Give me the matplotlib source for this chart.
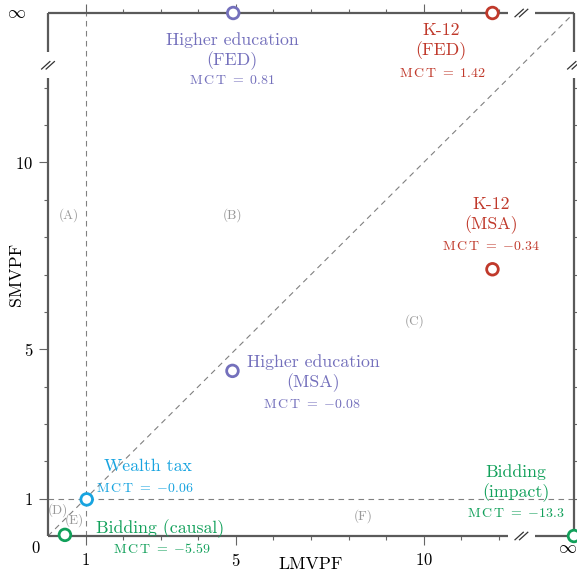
import numpy as np
import matplotlib
matplotlib.use('Agg')
import matplotlib.pyplot as plt

matplotlib.rcParams['font.family'] = 'cmr10'
matplotlib.rcParams['mathtext.fontset'] = 'cm'
matplotlib.rcParams['axes.unicode_minus'] = False
matplotlib.rcParams['axes.formatter.use_mathtext'] = True

# data (np.inf = infinite MVPF)
policy = ['Higher education\n(FED)', 'K-12\n(FED)', 'K-12\n(MSA)', 'Higher education\n(MSA)',
          'Wealth tax', 'Bidding (causal)', 'Bidding\n(impact)']
lmvpf = [4.93, 11.83, 11.83, 4.91, 1.03, 0.45, np.inf]
smvpf = [np.inf, np.inf, 7.14, 4.42, 0.98, 0.03, 0.0]
mct = ['0.81', '1.42', '-0.34', '-0.08', '-0.06', '-5.59', '-13.3']
region = ['(A)', '(B)', '(C)', '(D)', '(E)', '(F)']

purple = '#7470bc'; red = '#c0392b'; cyan = '#18a4e0'; green = '#11a05a'
cols = [purple, red, red, purple, cyan, green, green]

# label placement (data coords, inf drawn at 14)
name_xy = [(4.9, 12.98), (10.46, 13.25), (11.79, 8.58), (7.05, 4.36), (2.67, 1.87), (2.99, 0.21), (12.46, 1.42)]
mct_xy = [(4.9, 12.18), (10.49, 12.39), (11.79, 7.76), (7.03, 3.53), (2.57, 1.28), (3.02, -0.35), (12.46, 0.59)]
region_xy = [(0.56, 8.58), (4.9, 8.58), (9.77, 5.75), (0.27, 0.70), (0.69, 0.43), (8.39, 0.53)]

INF = 14.0
brk = 12.6
def tr(v):
    v = np.asarray(v, dtype=float)
    return np.where(np.isinf(v), INF, v)

fig = plt.figure(figsize=(5.77, 5.77), dpi=100)
ax = fig.add_axes([48/577, 41/577, 526/577, 523/577])
ax.set_xlim(0, INF)
ax.set_ylim(0, INF)
for s in ax.spines.values():
    s.set_visible(False)

gray = '#5a5a5a'
# broken frame
segs = [((0, 12.25), (0, 0)), ((12.95, INF), (0, 0)), ((0, 12.25), (INF, INF)), ((12.95, INF), (INF, INF)),
        ((0, 0), (0, 12.25)), ((0, 0), (12.95, INF)), ((INF, INF), (0, 12.25)), ((INF, INF), (12.95, INF))]
for xs, ys in segs:
    ax.plot(xs, ys, color=gray, lw=1.6, clip_on=False, zorder=3, solid_capstyle='butt')
def breakmark(x, y):
    for d in (-0.06, 0.06):
        ax.plot([x + d - 0.11, x + d + 0.11], [y - 0.1, y + 0.1], color='#333333', lw=0.9,
                clip_on=False, zorder=4)
breakmark(brk, 0); breakmark(brk, INF); breakmark(0, brk); breakmark(INF, brk)

# reference lines
dash = dict(color='#808080', lw=0.8, dashes=(5, 4), zorder=1)
ax.plot([1, 1], [0, INF], **dash)
ax.plot([0, INF], [1, 1], **dash)
ax.plot([0, INF], [0, INF], **dash)

ax.set_xticks([1, 5, 10])
ax.set_yticks([1, 5, 10])
ax.set_xticks([2, 3, 4, 6, 7, 8, 9, 11, 12], minor=True)
ax.set_yticks([2, 3, 4, 6, 7, 8, 9, 11, 12], minor=True)
ax.tick_params(which='both', direction='out', top=True, right=True, color='#666666', width=0.8, labelsize=12)
ax.tick_params(which='major', length=6.5)
ax.tick_params(which='minor', length=3)
ax.tick_params(axis='x', pad=5)
ax.tick_params(axis='y', pad=4)
ax.text(-0.32, -0.32, '0', ha='center', va='center', fontsize=12, clip_on=False)
ax.text(13.82, -0.32, r'$\infty$', ha='center', va='center', fontsize=13, clip_on=False)
ax.text(-0.85, INF, r'$\infty$', ha='center', va='center', fontsize=13, clip_on=False)

ax.set_xlabel('LMVPF', fontsize=12.8)
ax.xaxis.set_label_coords(0.5, -0.04)
ax.set_ylabel('SMVPF', fontsize=12.8)
ax.yaxis.set_label_coords(-0.046, 0.5)

ax.scatter(tr(lmvpf), tr(smvpf), s=70, facecolors='white', edgecolors=cols, linewidths=2,
           clip_on=False, zorder=5)

for i in range(len(policy)):
    ax.text(name_xy[i][0], name_xy[i][1], policy[i], color=cols[i], fontsize=12.8,
            ha='center', va='center', linespacing=1.22)
    val = mct[i].replace('-', '{-}')
    ax.text(mct_xy[i][0], mct_xy[i][1], r'$\mathrm{M\,C\,T}\ =\ ' + val + '$', color=cols[i],
            fontsize=10, ha='center', va='center', clip_on=False)

for r, (x, y) in zip(region, region_xy):
    ax.text(x, y, r, color='#999999', fontsize=9.5, ha='center', va='center')

plt.savefig('out.png', dpi=100)
